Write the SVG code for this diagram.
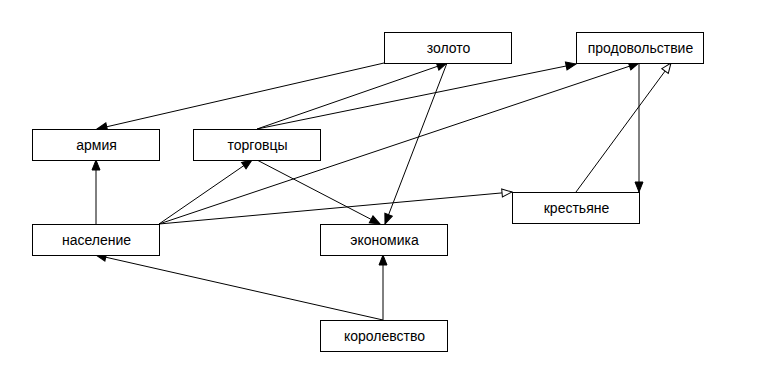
<svg xmlns="http://www.w3.org/2000/svg" width="768" height="384" viewBox="0 0 768 384">
<style>
.box{fill:#fff;stroke:#000;stroke-width:1}
.lbl{font-family:"Liberation Sans",Arial,sans-serif;font-size:14px;fill:#000;text-anchor:middle}
.edge{fill:none;stroke:#000;stroke-width:1}
.f{marker-end:url(#arrF)}
.h{marker-end:url(#arrH)}
</style>
<defs>
<marker id="arrF" markerUnits="userSpaceOnUse" markerWidth="12" markerHeight="10" refX="11" refY="5" orient="auto" viewBox="0 0 12 10">
<path d="M1,1 L11,5 L1,9 z" fill="#000" stroke="#000" stroke-width="1"/>
</marker>
<marker id="arrH" markerUnits="userSpaceOnUse" markerWidth="12" markerHeight="10" refX="11" refY="5" orient="auto" viewBox="0 0 12 10">
<path d="M1,1 L11,5 L1,9 z" fill="#fff" stroke="#000" stroke-width="1"/>
</marker>
</defs>
<rect width="768" height="384" fill="#fff"/>
<g id="connectors">
<path class="edge f" d="M384,63 L97,129"/>
<path class="edge f" d="M257,129 L447,63"/>
<path class="edge f" d="M257,129 L576,64"/>
<path class="edge f" d="M159,224 L639,63"/>
<path class="edge f" d="M159,224 L252,160"/>
<path class="edge h" d="M159,224 L512,192"/>
<path class="edge f" d="M96,224 L96,160"/>
<path class="edge f" d="M257,160 L380,224"/>
<path class="edge f" d="M447,63 L385,224"/>
<path class="edge f" d="M639,63 L639,192"/>
<path class="edge h" d="M576,192 L671,63"/>
<path class="edge f" d="M383,320 L96,255"/>
<path class="edge f" d="M383,320 L383,255"/>
</g>
<g id="zoloto"><rect class="box" x="384.5" y="32.5" width="127" height="31"/><text class="lbl" x="448.5" y="53">золото</text></g>
<g id="prodovolstvie"><rect class="box" x="576.5" y="32.5" width="127" height="31"/><text class="lbl" x="640.5" y="53">продовольствие</text></g>
<g id="armiya"><rect class="box" x="32.5" y="129.5" width="127" height="31"/><text class="lbl" x="96.5" y="150">армия</text></g>
<g id="torgovtsy"><rect class="box" x="193.5" y="129.5" width="127" height="31"/><text class="lbl" x="257.5" y="150">торговцы</text></g>
<g id="krestyane"><rect class="box" x="512.5" y="192.5" width="127" height="31"/><text class="lbl" x="576.5" y="213">крестьяне</text></g>
<g id="naselenie"><rect class="box" x="32.5" y="224.5" width="127" height="31"/><text class="lbl" x="96.5" y="245">население</text></g>
<g id="ekonomika"><rect class="box" x="320.5" y="224.5" width="127" height="31"/><text class="lbl" x="384.5" y="245">экономика</text></g>
<g id="korolevstvo"><rect class="box" x="320.5" y="320.5" width="127" height="31"/><text class="lbl" x="384.5" y="341">королевство</text></g>
</svg>
